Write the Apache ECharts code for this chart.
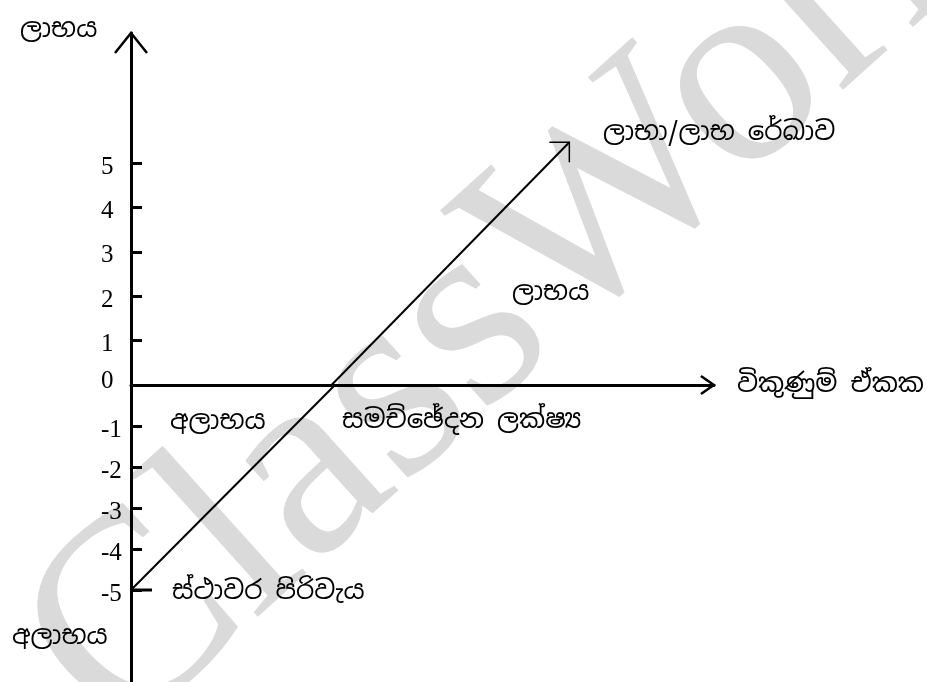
<!DOCTYPE html>
<html>
<head>
<meta charset="utf-8">
<script src="https://cdn.jsdelivr.net/npm/echarts@6/dist/echarts.min.js"></script>
<style>
  html, body { margin: 0; padding: 0; background: #fff; }
  #chart { width: 927px; height: 682px; }
</style>
</head>
<body>
<div id="chart"></div>
<script>
// y 轴刻度：上方为利润，下方为亏损
const profitTicks = [0, 1, 2, 3, 4, 5];
const lossTicks = [-1, -2, -3, -4, -5];

// 利润/销量线：固定成本、保本点、线的终点
const fixedCost = -5;
const breakEven = 3.44;
const lineEnd = [7.52, 5.47];

const lossLine = [[0, fixedCost], [breakEven, 0]];
const profitLine = [[breakEven, 0], lineEnd];

// 文字
const yName = 'ලාභය';
const xName = 'විකුණුම් ඒකක';
const lineName = 'ලාභා/ලාභ රේඛාව';
const profitText = 'ලාභය';
const lossText = 'අලාභය';
const breakEvenText = 'සමච්ඡේදන ලක්ෂ්‍ය';
const fixedCostText = 'ස්ථාවර පිරිවැය';
const watermark = 'ClassWork';

// 坐标范围（手绘图上下刻度间距不同，所以分成两个 grid）
const X_MAX = 10;
const Y_TOP = 7.93;
const Y_BOTTOM = -7.244;

const SIN = "'Noto Sans Sinhala', 'Noto Serif Sinhala', 'Iskoola Pota', 'Noto Sans', sans-serif";
const SERIF = "'Liberation Serif', 'DejaVu Serif', serif";
const SIN_FONT = '26px ' + SIN;

const myChart = echarts.init(document.getElementById('chart'));

const tickLabel = {
  show: true,
  align: 'left',
  margin: 30,
  fontFamily: SERIF,
  fontSize: 25,
  color: '#000',
  formatter: v => (v === 0 ? '{z|0}' : '{n|' + v + '}'),
  rich: {
    n: { fontFamily: SERIF, fontSize: 25, color: '#000', padding: [8, 0, 0, 0] },
    z: { fontFamily: SERIF, fontSize: 25, color: '#000', padding: [0, 0, 8, 0] }
  }
};

// 箭头和 -5 处的长刻度
const drawMark = (params, api) => {
  const p = api.coord([api.value(0), api.value(1)]);
  const kind = api.value(2);
  let pts;
  let w = 2.5;
  if (kind === 0) pts = [[p[0] - 16, p[1] + 20], p, [p[0] + 16, p[1] + 20]];
  else if (kind === 1) pts = [[p[0] - 13, p[1] - 9], p, [p[0] - 13, p[1] + 9]];
  else if (kind === 2) { pts = [[p[0] - 20, p[1]], p, [p[0], p[1] + 20]]; w = 1.5; }
  else { pts = [p, [p[0] + 21, p[1]]]; w = 3; }
  return {
    type: 'polyline',
    shape: { points: pts },
    style: { stroke: '#000', lineWidth: w, fill: null }
  };
};

const option = {
  animation: false,
  backgroundColor: '#fff',
  grid: [
    { left: 131, top: 33, width: 593, height: 352 },
    { left: 131, top: 385, width: 593, height: 297 }
  ],
  xAxis: [
    {
      gridIndex: 0,
      type: 'value',
      min: 0,
      max: X_MAX,
      name: xName,
      nameLocation: 'end',
      nameGap: 23,
      nameTextStyle: { fontFamily: SIN, fontSize: 26, color: '#000', verticalAlign: 'middle' },
      axisLine: { show: true, onZero: true, lineStyle: { color: '#000', width: 3 } },
      axisTick: { show: false },
      axisLabel: { show: false },
      splitLine: { show: false }
    },
    {
      gridIndex: 1,
      type: 'value',
      min: 0,
      max: X_MAX,
      show: false
    }
  ],
  yAxis: [
    {
      gridIndex: 0,
      type: 'value',
      min: 0,
      max: Y_TOP,
      axisLine: { show: true, onZero: false, lineStyle: { color: '#000', width: 3 } },
      axisTick: {
        show: true, inside: true, length: 11,
        customValues: profitTicks.filter(v => v !== 0),
        lineStyle: { color: '#000', width: 3 }
      },
      axisLabel: Object.assign({ customValues: profitTicks }, tickLabel),
      splitLine: { show: false }
    },
    {
      gridIndex: 1,
      type: 'value',
      min: Y_BOTTOM,
      max: 0,
      axisLine: { show: true, onZero: false, lineStyle: { color: '#000', width: 3 } },
      axisTick: {
        show: true, inside: true, length: 11,
        customValues: lossTicks,
        lineStyle: { color: '#000', width: 3 }
      },
      axisLabel: Object.assign({ customValues: lossTicks }, tickLabel),
      splitLine: { show: false }
    }
  ],
  graphic: [
    {
      type: 'text', z: -10, x: 515, y: 288, rotation: 42 * Math.PI / 180,
      style: { text: watermark, font: '275px ' + SERIF, fill: '#dadada', align: 'center', verticalAlign: 'middle' }
    },
    { type: 'text', x: 20, y: 30, style: { text: yName, font: SIN_FONT, fill: '#000', verticalAlign: 'middle' } },
    { type: 'text', x: 603, y: 133, style: { text: lineName, font: SIN_FONT, fill: '#000', verticalAlign: 'middle' } },
    { type: 'text', x: 512, y: 293, style: { text: profitText, font: SIN_FONT, fill: '#000', verticalAlign: 'middle' } },
    { type: 'text', x: 170, y: 422, style: { text: lossText, font: SIN_FONT, fill: '#000', verticalAlign: 'middle' } },
    { type: 'text', x: 342, y: 421, style: { text: breakEvenText, font: SIN_FONT, fill: '#000', verticalAlign: 'middle' } },
    { type: 'text', x: 172, y: 592, style: { text: fixedCostText, font: SIN_FONT, fill: '#000', verticalAlign: 'middle' } },
    { type: 'text', x: 12, y: 637, style: { text: lossText, font: SIN_FONT, fill: '#000', verticalAlign: 'middle' } }
  ],
  series: [
    {
      type: 'line',
      xAxisIndex: 1,
      yAxisIndex: 1,
      data: lossLine,
      symbol: 'none',
      clip: false,
      lineStyle: { color: '#000', width: 2 }
    },
    {
      type: 'line',
      xAxisIndex: 0,
      yAxisIndex: 0,
      data: profitLine,
      symbol: 'none',
      clip: false,
      lineStyle: { color: '#000', width: 2 }
    },
    {
      type: 'custom',
      xAxisIndex: 0,
      yAxisIndex: 0,
      clip: false,
      silent: true,
      data: [[0, Y_TOP, 0], [X_MAX, 0, 1], [lineEnd[0], lineEnd[1], 2]],
      renderItem: drawMark
    },
    {
      type: 'custom',
      xAxisIndex: 1,
      yAxisIndex: 1,
      clip: false,
      silent: true,
      data: [[0, fixedCost, 3]],
      renderItem: drawMark
    }
  ]
};

myChart.setOption(option);
</script>
</body>
</html>
